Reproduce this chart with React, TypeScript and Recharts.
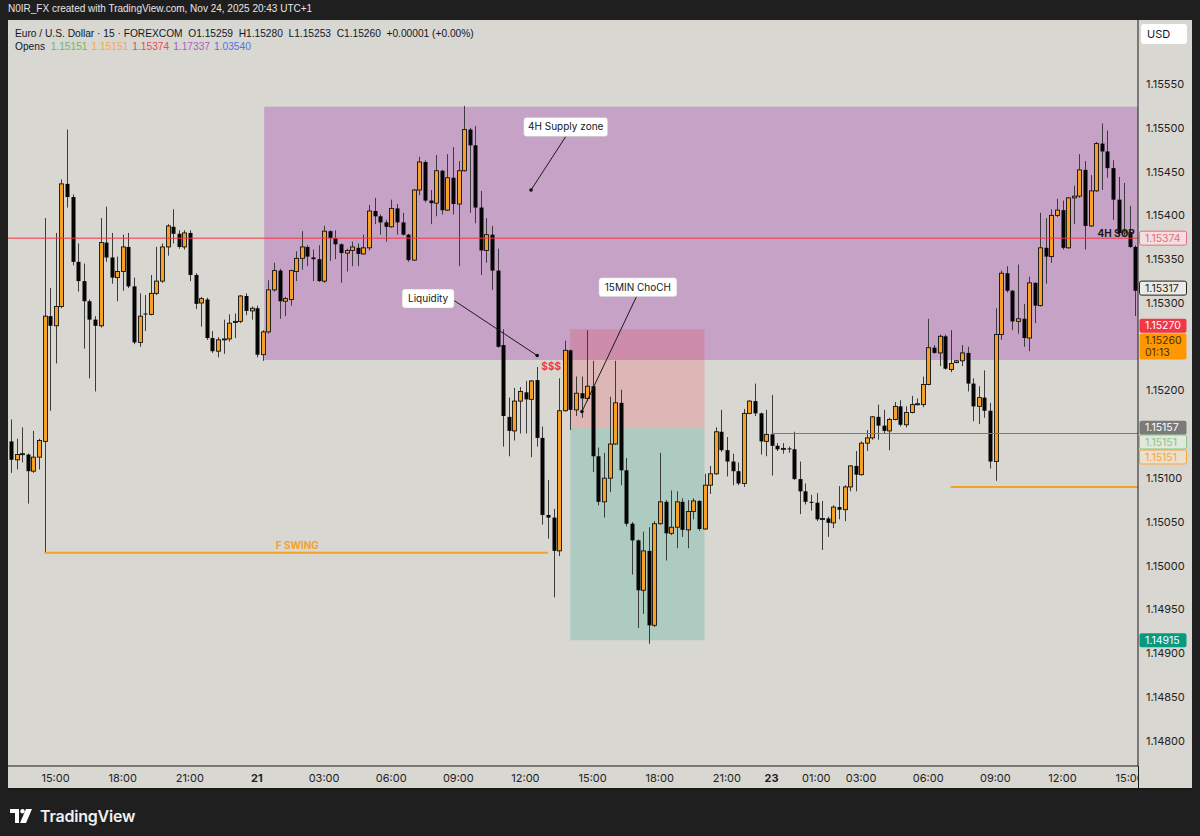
import React from "react";
import {
  ComposedChart,
  Bar,
  XAxis,
  YAxis,
  ReferenceArea,
  ReferenceLine,
  ReferenceDot,
} from "recharts";

// EURUSD 15m candles, Thu 13:00 -> Mon 15:15 (weekend skipped)
const opens = [
  1.15142, 1.15121, 1.15127, 1.15127, 1.15108, 1.15124, 1.15142, 1.15285, 1.15274, 1.15296,
  1.15436, 1.15421, 1.15347, 1.15325, 1.15302, 1.15281, 1.15274, 1.15369, 1.15352, 1.15329,
  1.15336, 1.15364, 1.15319, 1.15255, 1.15288, 1.15287, 1.15311, 1.15325, 1.15364, 1.15387,
  1.15379, 1.15364, 1.1538, 1.15332, 1.153, 1.15304, 1.1526, 1.15245, 1.15258, 1.15259,
  1.15278, 1.15279, 1.15308, 1.15291, 1.15294, 1.15241, 1.15267, 1.15315, 1.15337, 1.15302,
  1.15304, 1.15336, 1.15351, 1.15364, 1.15352, 1.1535, 1.15325, 1.15382, 1.15374, 1.15367,
  1.15357, 1.1536, 1.15363, 1.15356, 1.15363, 1.15405, 1.15399, 1.15392, 1.15387, 1.15408,
  1.15392, 1.15378, 1.15349, 1.15429, 1.15461, 1.15417, 1.15414, 1.15451, 1.15406, 1.15443,
  1.15413, 1.15451, 1.15498, 1.1548, 1.15409, 1.1536, 1.15378, 1.15337, 1.15252, 1.1517,
  1.15154, 1.15188, 1.15198, 1.1519, 1.15212, 1.15146, 1.15058, 1.15055, 1.15017, 1.15177,
  1.15246, 1.15178, 1.15197, 1.15191, 1.15205, 1.15125, 1.15073, 1.151, 1.15139, 1.15186,
  1.15109, 1.15048, 1.15029, 1.14972, 1.15017, 1.14932, 1.15048, 1.15073, 1.15037, 1.15044,
  1.15073, 1.15041, 1.15062, 1.15074, 1.15042, 1.15092, 1.15105, 1.15153, 1.15132, 1.15119,
  1.15108, 1.15094, 1.15174, 1.15188, 1.15174, 1.15142, 1.1515, 1.15137, 1.15133, 1.15134,
  1.15133, 1.15099, 1.15085, 1.15073, 1.15072, 1.15053, 1.15054, 1.15049, 1.15067, 1.15064,
  1.1509, 1.15114, 1.15104, 1.1514, 1.15146, 1.1517, 1.1516, 1.15154, 1.15167, 1.15182,
  1.15161, 1.15175, 1.15184, 1.15184, 1.15207, 1.15249, 1.15243, 1.15262, 1.15224, 1.15232,
  1.15234, 1.15243, 1.15208, 1.15182, 1.15192, 1.15177, 1.15119, 1.15264, 1.15334, 1.15314,
  1.15279, 1.15282, 1.1526, 1.15323, 1.15297, 1.15363, 1.15353, 1.154, 1.15406, 1.15363,
  1.1542, 1.15422, 1.15452, 1.15388, 1.15428, 1.15482, 1.15473, 1.15454, 1.15418, 1.1538,
  1.15381, 1.15364,
];
const highs = [
  1.15167, 1.15145, 1.15158, 1.15128, 1.15154, 1.15145, 1.15397, 1.15317, 1.1538, 1.15441,
  1.15498, 1.15424, 1.15368, 1.15345, 1.15304, 1.15285, 1.15397, 1.1541, 1.1538, 1.15353,
  1.15378, 1.1538, 1.15329, 1.15311, 1.15309, 1.15332, 1.15364, 1.15368, 1.1539, 1.15407,
  1.15383, 1.15383, 1.15383, 1.15334, 1.15307, 1.15306, 1.15268, 1.15261, 1.15281, 1.15287,
  1.15288, 1.15309, 1.15311, 1.15296, 1.15297, 1.15269, 1.15326, 1.15346, 1.15339, 1.15307,
  1.15338, 1.15359, 1.15382, 1.15366, 1.15361, 1.15366, 1.15388, 1.15383, 1.15383, 1.15368,
  1.15362, 1.1537, 1.15368, 1.15378, 1.15412, 1.1542, 1.15401, 1.15395, 1.15418, 1.15413,
  1.15403, 1.15379, 1.1543, 1.15467, 1.15463, 1.15429, 1.15469, 1.15452, 1.1547, 1.15478,
  1.15462, 1.15525, 1.155, 1.15502, 1.15428, 1.15397, 1.15388, 1.15362, 1.1527, 1.15192,
  1.15203, 1.15204, 1.15211, 1.15212, 1.15227, 1.15159, 1.15098, 1.15065, 1.15214, 1.15257,
  1.15247, 1.15216, 1.15216, 1.15269, 1.15234, 1.15135, 1.15129, 1.15193, 1.15234, 1.15201,
  1.15123, 1.1505, 1.1503, 1.15039, 1.15044, 1.15051, 1.15129, 1.15075, 1.15086, 1.15085,
  1.15077, 1.15075, 1.15077, 1.15075, 1.15105, 1.15114, 1.15158, 1.15178, 1.15147, 1.15128,
  1.15118, 1.15179, 1.15189, 1.15208, 1.15175, 1.15178, 1.15195, 1.1514, 1.1514, 1.15136,
  1.15153, 1.15119, 1.15094, 1.15081, 1.15083, 1.15074, 1.15056, 1.15069, 1.15091, 1.15092,
  1.15115, 1.15131, 1.15142, 1.15155, 1.15171, 1.15184, 1.15178, 1.15169, 1.15187, 1.15189,
  1.15182, 1.15194, 1.15191, 1.15216, 1.15282, 1.15252, 1.15264, 1.15264, 1.15269, 1.15235,
  1.15252, 1.1525, 1.15214, 1.15205, 1.15223, 1.15186, 1.15294, 1.15337, 1.15342, 1.15315,
  1.15344, 1.15299, 1.1533, 1.15324, 1.15403, 1.15397, 1.15407, 1.15419, 1.15417, 1.15421,
  1.15434, 1.1547, 1.15462, 1.15446, 1.15484, 1.15505, 1.15497, 1.15463, 1.15444, 1.15437,
  1.15411, 1.15366,
];
const lows = [
  1.15106, 1.1511, 1.15118, 1.15071, 1.15106, 1.1511, 1.15015, 1.15177, 1.15231, 1.15294,
  1.15409, 1.15343, 1.15313, 1.15248, 1.15214, 1.15199, 1.15272, 1.15347, 1.15322, 1.15302,
  1.15314, 1.15317, 1.15253, 1.1525, 1.15268, 1.15286, 1.15309, 1.15323, 1.15354, 1.15368,
  1.15362, 1.15361, 1.15325, 1.15293, 1.15273, 1.15258, 1.15243, 1.15238, 1.15242, 1.15256,
  1.1526, 1.15277, 1.15286, 1.15281, 1.15238, 1.15234, 1.15265, 1.15313, 1.15282, 1.15285,
  1.15297, 1.15325, 1.15338, 1.15342, 1.15325, 1.15324, 1.15323, 1.15348, 1.1535, 1.15323,
  1.15336, 1.15342, 1.15342, 1.15355, 1.1536, 1.1539, 1.15378, 1.1537, 1.15386, 1.15378,
  1.15377, 1.15347, 1.15348, 1.15423, 1.15415, 1.1539, 1.15399, 1.15401, 1.15405, 1.15401,
  1.15342, 1.1545, 1.15403, 1.15391, 1.15332, 1.15346, 1.15315, 1.15249, 1.15136, 1.15125,
  1.15143, 1.15151, 1.15151, 1.15124, 1.15136, 1.15047, 1.15031, 1.14964, 1.15011, 1.15176,
  1.15155, 1.15171, 1.15169, 1.15188, 1.15107, 1.15069, 1.15055, 1.15084, 1.15138, 1.15092,
  1.15045, 1.1499, 1.14929, 1.14945, 1.14911, 1.1493, 1.15047, 1.15006, 1.15035, 1.1502,
  1.15033, 1.1502, 1.15053, 1.1504, 1.15041, 1.15082, 1.15104, 1.1513, 1.15102, 1.15092,
  1.15092, 1.1509, 1.15173, 1.15171, 1.15127, 1.15125, 1.15103, 1.15131, 1.15128, 1.15129,
  1.15098, 1.15059, 1.1507, 1.15063, 1.15051, 1.15018, 1.15033, 1.15043, 1.15053, 1.15051,
  1.15085, 1.15085, 1.15103, 1.15131, 1.15144, 1.15144, 1.15151, 1.15132, 1.15166, 1.15159,
  1.15158, 1.15174, 1.15183, 1.15181, 1.15206, 1.15242, 1.15228, 1.15224, 1.15221, 1.15231,
  1.15228, 1.15199, 1.15165, 1.15162, 1.15169, 1.15111, 1.15097, 1.15258, 1.15312, 1.15269,
  1.15265, 1.1525, 1.15245, 1.15277, 1.15296, 1.15322, 1.15346, 1.15398, 1.15361, 1.15362,
  1.1539, 1.1542, 1.15361, 1.15387, 1.15427, 1.15429, 1.15443, 1.15395, 1.15376, 1.15377,
  1.15363, 1.15285,
];
const closes = [
  1.15121, 1.15127, 1.15128, 1.15108, 1.15124, 1.15143, 1.15285, 1.15274, 1.15296, 1.15436,
  1.15421, 1.15347, 1.15325, 1.15302, 1.15281, 1.15274, 1.15369, 1.15352, 1.15329, 1.15336,
  1.15364, 1.15319, 1.15255, 1.15285, 1.15287, 1.15311, 1.15325, 1.15364, 1.15388, 1.15379,
  1.15364, 1.1538, 1.15332, 1.15299, 1.15305, 1.1526, 1.15245, 1.15258, 1.15259, 1.15277,
  1.15279, 1.15308, 1.15291, 1.15294, 1.15241, 1.15267, 1.15315, 1.15337, 1.15302, 1.15305,
  1.15337, 1.15351, 1.15364, 1.15353, 1.1535, 1.15325, 1.15382, 1.15374, 1.15367, 1.15357,
  1.1536, 1.15364, 1.15356, 1.15363, 1.15405, 1.15399, 1.15392, 1.15387, 1.15408, 1.15392,
  1.15378, 1.15349, 1.15429, 1.15461, 1.15417, 1.15414, 1.15451, 1.15406, 1.15443, 1.15413,
  1.15451, 1.15498, 1.1548, 1.15409, 1.1536, 1.15378, 1.15337, 1.1525, 1.15171, 1.15154,
  1.15188, 1.15199, 1.1519, 1.15211, 1.15146, 1.15058, 1.15055, 1.15017, 1.15177, 1.15246,
  1.15178, 1.15197, 1.15191, 1.15205, 1.15125, 1.15073, 1.151, 1.15139, 1.15186, 1.15109,
  1.15048, 1.15029, 1.14972, 1.15017, 1.14932, 1.15048, 1.15073, 1.15037, 1.15044, 1.15073,
  1.15041, 1.15062, 1.15074, 1.15042, 1.15092, 1.15105, 1.15153, 1.15132, 1.15119, 1.15108,
  1.15094, 1.15174, 1.15188, 1.15174, 1.15142, 1.1515, 1.15137, 1.15133, 1.15134, 1.15133,
  1.15099, 1.15085, 1.15073, 1.15072, 1.15053, 1.15054, 1.15049, 1.15067, 1.15064, 1.1509,
  1.15114, 1.15104, 1.1514, 1.15146, 1.1517, 1.1516, 1.15154, 1.15167, 1.15182, 1.15161,
  1.15175, 1.15184, 1.15185, 1.15207, 1.15249, 1.15243, 1.15262, 1.15225, 1.15231, 1.15234,
  1.15243, 1.15208, 1.15182, 1.15192, 1.15177, 1.15119, 1.15264, 1.15334, 1.15314, 1.15279,
  1.15282, 1.1526, 1.15323, 1.15297, 1.15363, 1.15353, 1.154, 1.15406, 1.15363, 1.1542,
  1.15422, 1.15452, 1.15388, 1.15428, 1.15482, 1.15473, 1.15454, 1.15418, 1.1538, 1.15382,
  1.15364, 1.15314,
];

// time axis labels (bar index -> text)
const tickIndex = [8, 20, 32, 44, 56, 68, 80, 92, 104, 116, 128, 136, 144, 152, 164, 176, 188, 200];
const tickText = [
  "15:00", "18:00", "21:00", "21", "03:00", "06:00", "09:00", "12:00", "15:00",
  "18:00", "21:00", "23", "01:00", "03:00", "06:00", "09:00", "12:00", "15:00",
];
// price labels left visible (1.15250 and 1.15150 sit under the price tags)
const priceTicks = [
  1.148, 1.1485, 1.149, 1.1495, 1.15, 1.1505, 1.151, 1.152,
  1.153, 1.1535, 1.154, 1.1545, 1.155, 1.1555,
];

// drawings
const supplyZone = { from: 45.3, to: 201.5, top: 1.15524, bottom: 1.15235 };
const position = { from: 100, to: 124, stop: 1.1527, entry: 1.15157, target: 1.14915 };
const redLevel = 1.15374;
const greenLevel = { from: 136, price: 1.15151 };
const orangeLevel = { from: 168, price: 1.1509 };
const swingLevel = { from: 6, to: 96, price: 1.15015 };

const notes = [
  { text: "4H Supply zone", at: 99.2, price: 1.15501, w: 84 },
  { text: "Liquidity", at: 74.6, price: 1.15305, w: 52 },
  { text: "15MIN ChoCH", at: 112.1, price: 1.15318, w: 78 },
];
const callouts = [
  { x1: 99.3, y1: 1.15491, x2: 93.0, y2: 1.15429 },
  { x1: 79.2, y1: 1.15303, x2: 94.1, y2: 1.1524 },
  { x1: 111.9, y1: 1.15308, x2: 102.1, y2: 1.15176 },
];

const tags = [
  { price: 1.15374, text: "1.15374", fill: "#f1dfe1", stroke: "#ec6b79", color: "#ec6b79", nudge: 0 },
  { price: 1.15317, text: "1.15317", fill: "#ebeae6", stroke: "#222", color: "#222", nudge: 0 },
  { price: 1.1527, text: "1.15270", fill: "#f23645", stroke: "none", color: "#fff", nudge: -3.5 },
  { price: 1.1526, text: "1.15260", sub: "01:13", fill: "#ff9800", stroke: "none", color: "#4a2d00", nudge: 2.5 },
  { price: 1.15157, text: "1.15157", fill: "#7a7a7a", stroke: "none", color: "#fff", nudge: -0.5 },
  { price: 1.15151, text: "1.15151", fill: "#e2e9dc", stroke: "#86c78a", color: "#86c78a", nudge: 8.5 },
  { price: 1.15151, text: "1.15151", fill: "#ecdfcb", stroke: "#f5a53a", color: "#f5a53a", nudge: 23.5 },
  { price: 1.14915, text: "1.14915", fill: "#089981", stroke: "none", color: "#fff", nudge: 0 },
];

const data = opens.map((o, i) => ({
  i,
  open: o,
  high: highs[i],
  low: lows[i],
  close: closes[i],
  range: [lows[i], highs[i]],
}));

const PLOT_W = 1130;
const BG = "#d8d7d2";
const FONT = "Inter, 'Liberation Sans', Arial, sans-serif";
const HFONT = "'Liberation Sans', Arial, sans-serif";
const ORANGE = "#f6a126";

const Candle = (props: any) => {
  const { x, y, width, height, payload } = props;
  const top = Math.min(y, y + height);
  const h = Math.abs(height);
  const span = payload.high - payload.low || 1e-9;
  const toY = (v: number) => top + ((payload.high - v) / span) * h;
  const cx = Math.round(x + width / 2);
  const bull = payload.close >= payload.open;
  const bt = toY(Math.max(payload.open, payload.close));
  const bb = toY(Math.min(payload.open, payload.close));
  return (
    <g>
      <line x1={cx + 0.5} x2={cx + 0.5} y1={top} y2={top + h} stroke="#3b3b3b" strokeWidth={1} />
      <rect
        x={cx - 1.5}
        y={bt}
        width={4}
        height={Math.max(1, bb - bt)}
        fill={bull ? ORANGE : "#050505"}
        stroke="#111"
        strokeWidth={bull ? 0.9 : 0}
      />
    </g>
  );
};

const TimeTick = (props: any) => {
  const { x, y, payload } = props;
  const k = tickIndex.indexOf(payload.value);
  const label = tickText[k] ?? "";
  const bold = label.length <= 2;
  return (
    <g>
      <defs>
        <clipPath id={`tclip${k}`}>
          <rect x={0} y={y - 12} width={PLOT_W} height={30} />
        </clipPath>
      </defs>
      <text
        x={x}
        y={y}
        dy="0.71em"
        textAnchor="middle"
        fontSize={11}
        fontFamily={FONT}
        fontWeight={bold ? 700 : 400}
        fill="#222"
        clipPath={`url(#tclip${k})`}
      >
        {label}
      </text>
    </g>
  );
};

const noteShape = (n: { text: string; w: number }) => (p: any) => (
  <g>
    <rect
      x={p.cx - n.w / 2}
      y={p.cy - 9.5}
      width={n.w}
      height={19}
      rx={3}
      fill="#ffffff"
      stroke="#bdbdbd"
      strokeWidth={0.5}
    />
    <text x={p.cx} y={p.cy + 3.5} textAnchor="middle" fontSize={10} fontFamily={FONT} fill="#131722">
      {n.text}
    </text>
  </g>
);

const tagShape = (t: any) => (p: any) => {
  const cy = p.cy + t.nudge;
  const h = t.sub ? 26 : 14;
  return (
    <g>
      <rect
        x={p.cx + 1.5}
        y={cy - 7}
        width={47}
        height={h}
        rx={2}
        fill={t.fill}
        stroke={t.stroke}
        strokeWidth={1}
      />
      <text x={p.cx + 7} y={cy + 3.5} fontSize={10.5} fontFamily={FONT} fill={t.color}>
        {t.text}
      </text>
      {t.sub && (
        <text x={p.cx + 7} y={cy + 15.5} fontSize={10.5} fontFamily={FONT} fill={t.color}>
          {t.sub}
        </text>
      )}
    </g>
  );
};

const textShape = (text: string, color: string, size: number, weight: number) => (p: any) => (
  <text
    x={p.cx}
    y={p.cy + size * 0.35}
    textAnchor="middle"
    fontSize={size}
    fontWeight={weight}
    fontFamily={FONT}
    fill={color}
  >
    {text}
  </text>
);

const openColors = ["#6db865", "#f6a94a", "#e8495a", "#a65fbf", "#4f73e8"];
const openValues = ["1.15151", "1.15151", "1.15374", "1.17337", "1.03540"];

function TvLogo() {
  return (
    <svg width="24" height="14" viewBox="0 0 24 14" style={{ display: "block" }}>
      <path d="M0 0 H9 V14 H5 V4 H0 Z" fill="#fff" />
      <circle cx="12.5" cy="2.2" r="2.2" fill="#fff" />
      <path d="M16 0 H22 L16 14 H10 Z" fill="#fff" />
    </svg>
  );
}

export default function App() {
  return (
    <div
      style={{
        position: "absolute",
        left: 0,
        top: 0,
        width: 1200,
        height: 836,
        background: "#1f1f1f",
        fontFamily: FONT,
        overflow: "hidden",
      }}
    >
      <div style={{ position: "absolute", left: 8, top: 3, fontSize: 10, fontFamily: HFONT, color: "#e6e6e6" }}>
        N0IR_FX created with TradingView.com, Nov 24, 2025 20:43 UTC+1
      </div>

      <div style={{ position: "absolute", left: 8, top: 20, width: 1184, height: 770, background: BG }}>
        <ComposedChart
          width={1184}
          height={770}
          data={data}
          margin={{ top: 0, right: 0, bottom: 0, left: 0 }}
        >
          <XAxis
            dataKey="i"
            type="number"
            domain={[-0.5, 201.5]}
            allowDataOverflow
            ticks={tickIndex}
            interval={0}
            tick={<TimeTick />}
            tickLine={false}
            axisLine={{ stroke: "#1a1a1a" }}
            height={24}
          />
          <YAxis
            orientation="right"
            type="number"
            domain={[1.147714, 1.156231]}
            allowDataOverflow
            ticks={priceTicks}
            interval={0}
            tickFormatter={(v: number) => v.toFixed(5)}
            tick={{ fontSize: 11, fill: "#222", fontFamily: FONT }}
            tickLine={false}
            axisLine={{ stroke: "#1a1a1a" }}
            width={54}
          />

          <ReferenceArea
            x1={supplyZone.from}
            x2={supplyZone.to}
            y1={supplyZone.bottom}
            y2={supplyZone.top}
            fill="#9c27b0"
            fillOpacity={0.3}
            stroke="none"
          />
          <ReferenceArea
            x1={position.from}
            x2={position.to}
            y1={position.entry}
            y2={position.stop}
            fill="#f23645"
            fillOpacity={0.2}
            stroke="none"
          />
          <ReferenceArea
            x1={position.from}
            x2={position.to}
            y1={position.target}
            y2={position.entry}
            fill="#089981"
            fillOpacity={0.2}
            stroke="none"
          />

          <ReferenceLine y={redLevel} stroke="#f23645" strokeWidth={1} />
          <ReferenceLine
            segment={[
              { x: greenLevel.from, y: greenLevel.price },
              { x: 201.5, y: greenLevel.price },
            ]}
            stroke="#43a047"
            strokeWidth={1}
          />
          <ReferenceLine
            segment={[
              { x: orangeLevel.from, y: orangeLevel.price },
              { x: 201.5, y: orangeLevel.price },
            ]}
            stroke={ORANGE}
            strokeWidth={2}
          />
          <ReferenceLine
            segment={[
              { x: swingLevel.from, y: swingLevel.price },
              { x: swingLevel.to, y: swingLevel.price },
            ]}
            stroke={ORANGE}
            strokeWidth={2}
          />

          <Bar
            dataKey="range"
            barSize={4}
            shape={<Candle />}
            isAnimationActive={false}
          />

          {callouts.map((c, k) => (
            <ReferenceLine
              key={`c${k}`}
              segment={[
                { x: c.x1, y: c.y1 },
                { x: c.x2, y: c.y2 },
              ]}
              stroke="#1a1a1a"
              strokeWidth={1}
              ifOverflow="visible"
            />
          ))}
          {callouts.map((c, k) => (
            <ReferenceDot key={`d${k}`} x={c.x2} y={c.y2} r={1.8} fill="#111" stroke="none" ifOverflow="visible" />
          ))}
          {notes.map((n, k) => (
            <ReferenceDot key={`n${k}`} x={n.at} y={n.price} ifOverflow="visible" shape={noteShape(n)} />
          ))}

          <ReferenceDot x={96.6} y={1.15227} ifOverflow="visible" shape={textShape("$$$", "#f23645", 10, 700)} />
          <ReferenceDot x={51.2} y={1.15023} ifOverflow="visible" shape={textShape("F SWING", ORANGE, 10, 700)} />
          <ReferenceDot x={197.6} y={1.15379} ifOverflow="visible" shape={textShape("4H SOP", "#1a1a1a", 10, 700)} />

          {tags.map((t, k) => (
            <ReferenceDot key={`t${k}`} x={201.5} y={t.price} ifOverflow="visible" shape={tagShape(t)} />
          ))}
        </ComposedChart>

        <div style={{ position: "absolute", left: 1130, top: 746, width: 1, height: 24, background: "#1a1a1a" }} />
        <div style={{ position: "absolute", left: 0, top: 768, width: 1184, height: 2, background: "#1a1a1a" }} />

        <div
          style={{
            position: "absolute",
            left: 7,
            top: 8,
            fontSize: 10.2,
            fontFamily: HFONT,
            color: "#131722",
            whiteSpace: "pre",
          }}
        >
          {"Euro / U.S. Dollar · 15 · FOREXCOM  O1.15259  H1.15280  L1.15253  C1.15260  +0.00001 (+0.00%)"}
        </div>
        <div
          style={{
            position: "absolute",
            left: 7,
            top: 21,
            fontSize: 10.2,
            fontFamily: HFONT,
            color: "#131722",
            whiteSpace: "pre",
          }}
        >
          {"Opens  "}
          {openValues.map((v, k) => (
            <span key={k} style={{ color: openColors[k], marginRight: 4 }}>
              {v}
            </span>
          ))}
        </div>
        <div
          style={{
            position: "absolute",
            left: 1133,
            top: 4,
            width: 46,
            height: 20,
            background: "#fff",
            borderRadius: 3,
            fontSize: 11,
            lineHeight: "20px",
            color: "#131722",
            paddingLeft: 6,
            boxSizing: "border-box",
          }}
        >
          USD
        </div>
      </div>

      <div style={{ position: "absolute", left: 10, top: 806, display: "flex", alignItems: "center", gap: 6 }}>
        <TvLogo />
        <span style={{ color: "#f0f0f0", fontSize: 16, fontWeight: 600, letterSpacing: -0.2 }}>TradingView</span>
      </div>
    </div>
  );
}
